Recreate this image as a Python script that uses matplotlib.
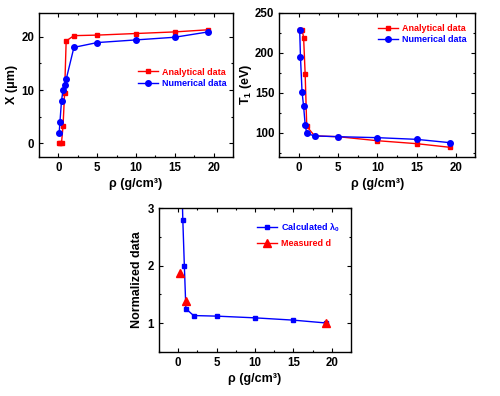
import matplotlib
matplotlib.use("Agg")
import matplotlib.pyplot as plt
from matplotlib.lines import Line2D
from matplotlib.ticker import MultipleLocator

plt.rcParams['font.family'] = ['Liberation Sans', 'DejaVu Sans']
plt.rcParams['font.weight'] = 'bold'
plt.rcParams['mathtext.fontset'] = 'custom'
plt.rcParams['mathtext.rm'] = 'Liberation Sans:bold'
plt.rcParams['mathtext.it'] = 'Liberation Sans:bold'
plt.rcParams['mathtext.bf'] = 'Liberation Sans:bold'

# ---- data ----
rho = [0.1, 0.2, 0.4, 0.6, 0.8, 1, 2, 5, 10, 15, 19.3]
x_analytical = [0, 0, 0.1, 3.3, 9.5, 19.2, 20.2, 20.3, 20.6, 20.9, 21.3]
x_numerical = [2.0, 4.0, 8.0, 10.0, 11.0, 12.0, 18.0, 18.9, 19.4, 19.9, 20.9]
t_analytical = [229, 229, 229, 219, 173, 108, 96, 95, 90, 86.3, 81.7]
t_numerical = [228, 195, 151, 133, 110, 99, 96, 95, 93.8, 91.7, 87.5]
rho_lambda = [0.4, 0.6, 0.8, 1, 2, 5, 10, 15, 19.3]
lambda0 = [3.9, 2.8, 2.0, 1.25, 1.13, 1.12, 1.09, 1.05, 1.0]
rho_meas = [0.2, 1, 19.3]
meas_d = [1.87, 1.38, 1.0]

RED = '#ff0000'
BLUE = '#0000ff'
FS_TICK = 8.3
FS_LAB = 9
FS_LEG = 6.5

fig = plt.figure(figsize=(5, 3.96), dpi=100)
ax1 = fig.add_axes([0.078, 0.6043, 0.388, 0.3636])
ax2 = fig.add_axes([0.5586, 0.6043, 0.392, 0.3636])
ax3 = fig.add_axes([0.318, 0.1119, 0.384, 0.3621])


def style(ax, ymaj, ymin):
    ax.set_xlim(-2.5, 22.5)
    ax.xaxis.set_major_locator(MultipleLocator(5))
    ax.xaxis.set_minor_locator(MultipleLocator(2.5))
    ax.yaxis.set_major_locator(MultipleLocator(ymaj))
    ax.yaxis.set_minor_locator(MultipleLocator(ymin))
    ax.tick_params(which='both', direction='in', top=True, right=True,
                   width=0.8, labelsize=FS_TICK, pad=3.5)
    ax.tick_params(which='major', length=3)
    ax.tick_params(which='minor', length=1.6)
    for s in ax.spines.values():
        s.set_linewidth(1.0)
    for lab in ax.get_xticklabels() + ax.get_yticklabels():
        lab.set_fontweight('bold')
    ax.set_xlabel('ρ (g/cm³)', fontsize=FS_LAB, fontweight='bold', labelpad=3)


# panel 1
ax1.plot(rho, x_analytical, color=RED, lw=1.0, marker='s', ms=3.5, label='Analytical data')
ax1.plot(rho, x_numerical, color=BLUE, lw=1.0, marker='o', ms=4, label='Numerical data')
ax1.set_ylim(-2.5, 24.5)
style(ax1, 10, 5)
ax1.set_ylabel('X (μm)', fontsize=FS_LAB, fontweight='bold', labelpad=2)
leg1 = ax1.legend(loc='center left', bbox_to_anchor=(0.51, 0.549), frameon=False,
                  fontsize=FS_LEG, borderpad=0, borderaxespad=0, handlelength=2.2,
                  handletextpad=0.45, labelspacing=0.25)
for t, c in zip(leg1.get_texts(), [RED, BLUE]):
    t.set_color(c)
    t.set_fontweight('bold')

# panel 2
ax2.plot(rho, t_analytical, color=RED, lw=1.0, marker='s', ms=3.5, label='Analytical data')
ax2.plot(rho, t_numerical, color=BLUE, lw=1.0, marker='o', ms=4, label='Numerical data')
ax2.set_ylim(70, 250)
style(ax2, 50, 25)
ax2.set_ylabel('T$_1$ (eV)', fontsize=FS_LAB, fontweight='bold', labelpad=1)
leg2 = ax2.legend(loc='center left', bbox_to_anchor=(0.504, 0.851), frameon=False,
                  fontsize=FS_LEG, borderpad=0, borderaxespad=0, handlelength=2.2,
                  handletextpad=0.45, labelspacing=0.25)
for t, c in zip(leg2.get_texts(), [RED, BLUE]):
    t.set_color(c)
    t.set_fontweight('bold')

# panel 3
ax3.plot(rho_lambda, lambda0, color=BLUE, lw=1.0, marker='s', ms=2.5)
ax3.plot(rho_meas, meas_d, color=RED, lw=0, marker='^', ms=6)
ax3.set_ylim(0.5, 3)
style(ax3, 1, 0.5)
ax3.set_ylabel('Normalized data', fontsize=FS_LAB, fontweight='bold', labelpad=3)
handles = [Line2D([], [], color=BLUE, lw=1.0, marker='s', ms=2.5),
           Line2D([], [], color=RED, lw=1.0, marker='^', ms=6)]
leg3 = ax3.legend(handles, ['Calculated λ$_0$', 'Measured d'], loc='center left',
                  bbox_to_anchor=(0.51, 0.815), frameon=False, fontsize=FS_LEG,
                  borderpad=0, borderaxespad=0, handlelength=2.2,
                  handletextpad=0.45, labelspacing=0.55)
for t, c in zip(leg3.get_texts(), [BLUE, RED]):
    t.set_color(c)
    t.set_fontweight('bold')

fig.savefig('out.png', dpi=100)
